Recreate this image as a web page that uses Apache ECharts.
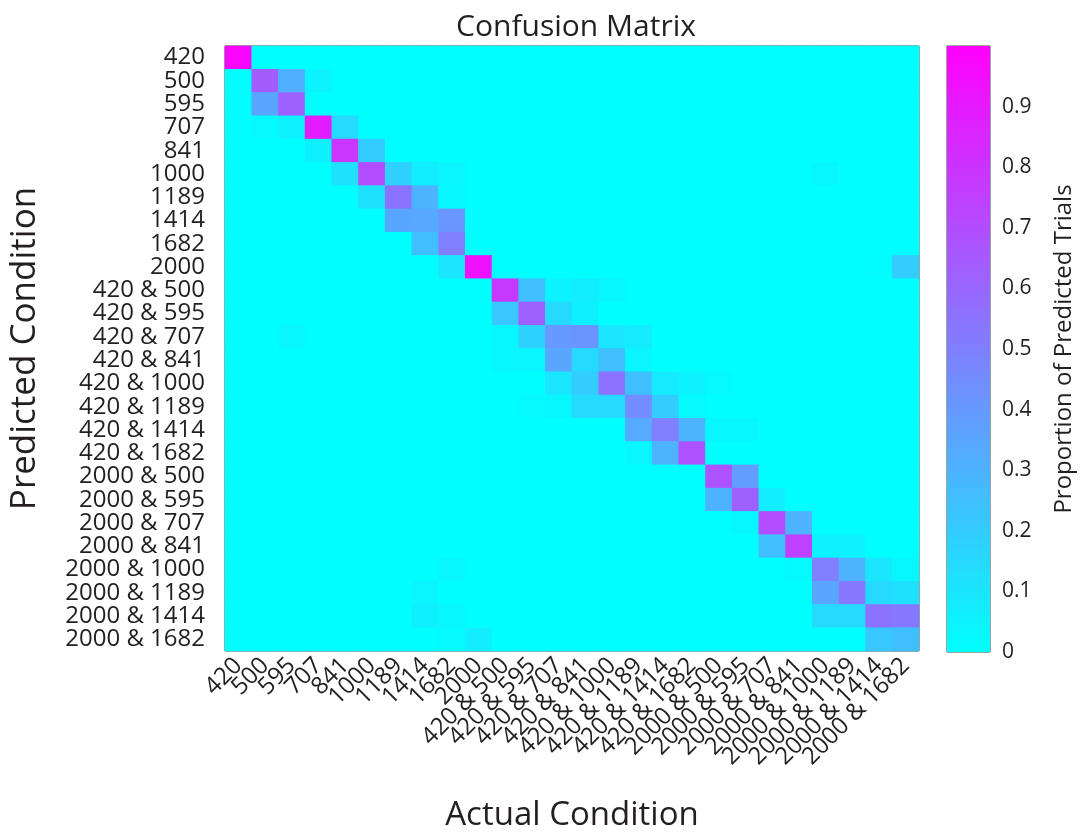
<!DOCTYPE html>
<html>
<head>
<meta charset="utf-8">
<script src="https://cdn.jsdelivr.net/npm/echarts@6/dist/echarts.min.js"></script>
<style>
  html, body { margin: 0; padding: 0; background: #fff; }
  #chart { width: 1082px; height: 837px; }
</style>
</head>
<body>
<div id="chart"></div>
<script>
var conditions = ['420', '500', '595', '707', '841', '1000', '1189', '1414', '1682', '2000',
    '420 & 500', '420 & 595', '420 & 707', '420 & 841', '420 & 1000', '420 & 1189', '420 & 1414', '420 & 1682',
    '2000 & 500', '2000 & 595', '2000 & 707', '2000 & 841', '2000 & 1000', '2000 & 1189', '2000 & 1414', '2000 & 1682'];

// rows = predicted condition, columns = actual condition
var proportions = [
    [0.98, 0, 0, 0, 0, 0, 0, 0, 0, 0, 0, 0, 0, 0, 0, 0, 0, 0, 0, 0, 0, 0, 0, 0, 0, 0],
    [0, 0.64, 0.31, 0.05, 0, 0, 0, 0, 0, 0, 0, 0, 0, 0, 0, 0, 0, 0, 0, 0, 0, 0, 0, 0, 0, 0],
    [0, 0.35, 0.62, 0, 0, 0, 0, 0, 0, 0, 0, 0, 0, 0, 0, 0, 0, 0, 0, 0, 0, 0, 0, 0, 0, 0],
    [0, 0.02, 0.05, 0.89, 0.15, 0, 0, 0, 0, 0, 0, 0, 0, 0, 0, 0, 0, 0, 0, 0, 0, 0, 0, 0, 0, 0],
    [0, 0, 0, 0.06, 0.79, 0.20, 0, 0, 0, 0, 0, 0, 0, 0, 0, 0, 0, 0, 0, 0, 0, 0, 0, 0, 0, 0],
    [0, 0, 0, 0, 0.12, 0.70, 0.18, 0.07, 0.04, 0, 0, 0, 0, 0, 0, 0, 0, 0, 0, 0, 0, 0, 0.03, 0, 0, 0],
    [0, 0, 0, 0, 0, 0.12, 0.55, 0.30, 0.03, 0, 0, 0, 0, 0, 0, 0, 0, 0, 0, 0, 0, 0, 0, 0, 0, 0],
    [0, 0, 0, 0, 0, 0, 0.35, 0.34, 0.41, 0, 0, 0, 0, 0, 0, 0, 0, 0, 0, 0, 0, 0, 0, 0, 0, 0],
    [0, 0, 0, 0, 0, 0, 0, 0.25, 0.50, 0, 0, 0, 0, 0, 0, 0, 0, 0, 0, 0, 0, 0, 0, 0, 0, 0],
    [0, 0, 0, 0, 0, 0, 0, 0, 0.10, 0.94, 0, 0, 0, 0, 0, 0, 0, 0, 0, 0, 0, 0, 0, 0, 0.01, 0.20],
    [0, 0, 0, 0, 0, 0, 0, 0, 0, 0, 0.78, 0.25, 0.05, 0.07, 0.03, 0, 0, 0, 0, 0, 0, 0, 0, 0, 0, 0],
    [0, 0, 0, 0, 0, 0, 0, 0, 0, 0, 0.22, 0.62, 0.15, 0.06, 0, 0, 0, 0, 0, 0, 0, 0, 0, 0, 0, 0],
    [0, 0, 0.03, 0, 0, 0, 0, 0, 0, 0, 0.03, 0.18, 0.40, 0.42, 0.10, 0.08, 0, 0, 0, 0, 0, 0, 0, 0, 0, 0],
    [0, 0, 0, 0, 0, 0, 0, 0, 0, 0, 0.03, 0.04, 0.35, 0.15, 0.25, 0.04, 0, 0, 0, 0, 0, 0, 0, 0, 0, 0],
    [0, 0, 0, 0, 0, 0, 0, 0, 0, 0, 0, 0, 0.10, 0.20, 0.55, 0.25, 0.08, 0.05, 0.02, 0, 0, 0, 0, 0, 0, 0],
    [0, 0, 0, 0, 0, 0, 0, 0, 0, 0, 0, 0.02, 0.03, 0.15, 0.15, 0.45, 0.20, 0.02, 0, 0, 0, 0, 0, 0, 0, 0],
    [0, 0, 0, 0, 0, 0, 0, 0, 0, 0, 0, 0, 0, 0, 0, 0.33, 0.50, 0.30, 0.03, 0.03, 0, 0, 0, 0, 0, 0],
    [0, 0, 0, 0, 0, 0, 0, 0, 0, 0, 0, 0, 0, 0, 0, 0.03, 0.30, 0.68, 0, 0, 0, 0, 0, 0, 0, 0],
    [0, 0, 0, 0, 0, 0, 0, 0, 0, 0, 0, 0, 0, 0, 0, 0, 0, 0, 0.68, 0.38, 0, 0, 0, 0, 0, 0],
    [0, 0, 0, 0, 0, 0, 0, 0, 0, 0, 0, 0, 0, 0, 0, 0, 0, 0, 0.30, 0.62, 0.07, 0, 0, 0, 0, 0],
    [0, 0, 0, 0, 0, 0, 0, 0, 0, 0, 0, 0, 0, 0, 0, 0, 0, 0, 0, 0.03, 0.70, 0.30, 0, 0, 0, 0],
    [0, 0, 0, 0, 0, 0, 0, 0, 0, 0, 0, 0, 0, 0, 0, 0, 0, 0, 0, 0, 0.25, 0.75, 0.05, 0.05, 0, 0],
    [0, 0, 0, 0, 0, 0, 0, 0, 0.03, 0, 0, 0, 0, 0, 0, 0, 0, 0, 0, 0, 0, 0.02, 0.50, 0.30, 0.10, 0.03],
    [0, 0, 0, 0, 0, 0, 0, 0.04, 0, 0, 0, 0, 0, 0, 0, 0, 0, 0, 0, 0, 0, 0, 0.35, 0.52, 0.15, 0.12],
    [0, 0, 0, 0, 0, 0, 0, 0.06, 0.03, 0, 0, 0, 0, 0, 0, 0, 0, 0, 0, 0, 0, 0, 0.15, 0.15, 0.55, 0.52],
    [0, 0, 0, 0, 0, 0, 0, 0, 0.02, 0.07, 0, 0, 0, 0, 0, 0, 0, 0, 0, 0, 0, 0, 0, 0, 0.22, 0.25]
];

var colorRange = ['#00ffff', '#ff00ff'];
var colorbarMax = 1;

var chart = echarts.init(document.getElementById('chart'));

var cells = [];
for (var i = 0; i < proportions.length; i++) {
    for (var j = 0; j < proportions[i].length; j++) {
        cells.push([j, i, proportions[i][j]]);
    }
}

var font = 'Open Sans';
var textColor = '#231f20';

var option = {
    animation: false,
    textStyle: { fontFamily: font },
    title: {
        text: 'Confusion Matrix',
        left: 571,
        top: 7,
        textAlign: 'center',
        textStyle: { fontFamily: font, fontSize: 30, fontWeight: 'normal', color: textColor }
    },
    grid: [
        // cyan background hides hairline seams between heatmap cells
        { left: 219, top: 46, width: 700, height: 606, show: true, borderColor: '#2f4a4a', borderWidth: 1, backgroundColor: '#00ffff' },
        { left: 947, top: 46, width: 43, height: 606, show: true, borderColor: '#2f4a4a', borderWidth: 1 }
    ],
    xAxis: [
        {
            type: 'category',
            gridIndex: 0,
            data: conditions,
            name: 'Actual Condition',
            nameLocation: 'middle',
            nameGap: 148,
            nameTextStyle: { fontSize: 33, color: textColor },
            axisLine: { show: false },
            axisTick: { show: false },
            splitLine: { show: false },
            axisLabel: { interval: 0, rotate: 45, fontSize: 24, color: textColor, margin: 11 }
        },
        {
            type: 'category',
            gridIndex: 1,
            data: ['bar'],
            show: false
        }
    ],
    yAxis: [
        {
            type: 'category',
            gridIndex: 0,
            data: conditions,
            inverse: true,
            name: 'Predicted Condition',
            nameLocation: 'middle',
            nameGap: 182,
            nameTextStyle: { fontSize: 35, color: textColor },
            axisLine: { show: false },
            axisTick: { show: false },
            splitLine: { show: false },
            axisLabel: { interval: 0, fontSize: 24, color: textColor, margin: 20 }
        },
        {
            type: 'value',
            gridIndex: 1,
            min: 0,
            max: colorbarMax,
            interval: 0.1,
            position: 'right',
            name: 'Proportion of Predicted Trials',
            nameLocation: 'middle',
            nameGap: 62,
            nameTextStyle: { fontSize: 24, color: textColor },
            axisLine: { show: false },
            axisTick: { show: false },
            splitLine: { show: false },
            axisLabel: {
                fontSize: 21,
                color: textColor,
                margin: 12,
                formatter: function (v) {
                    if (v >= 0.999) return '';
                    return v === 0 ? '0' : v.toFixed(1);
                }
            }
        }
    ],
    visualMap: {
        show: false,
        min: 0,
        max: colorbarMax,
        seriesIndex: 0,
        dimension: 2,
        inRange: { color: colorRange }
    },
    series: [
        {
            name: 'Confusion',
            type: 'heatmap',
            xAxisIndex: 0,
            yAxisIndex: 0,
            data: cells,
            itemStyle: { borderWidth: 0 },
            emphasis: { disabled: true }
        },
        {
            name: 'Colorbar',
            type: 'bar',
            xAxisIndex: 1,
            yAxisIndex: 1,
            data: [colorbarMax],
            barWidth: '100%',
            silent: true,
            itemStyle: {
                color: new echarts.graphic.LinearGradient(0, 0, 0, 1, [
                    { offset: 0, color: colorRange[1] },
                    { offset: 1, color: colorRange[0] }
                ])
            }
        }
    ]
};
chart.setOption(option);
window.onresize = chart.resize;
</script>
</body>
</html>
